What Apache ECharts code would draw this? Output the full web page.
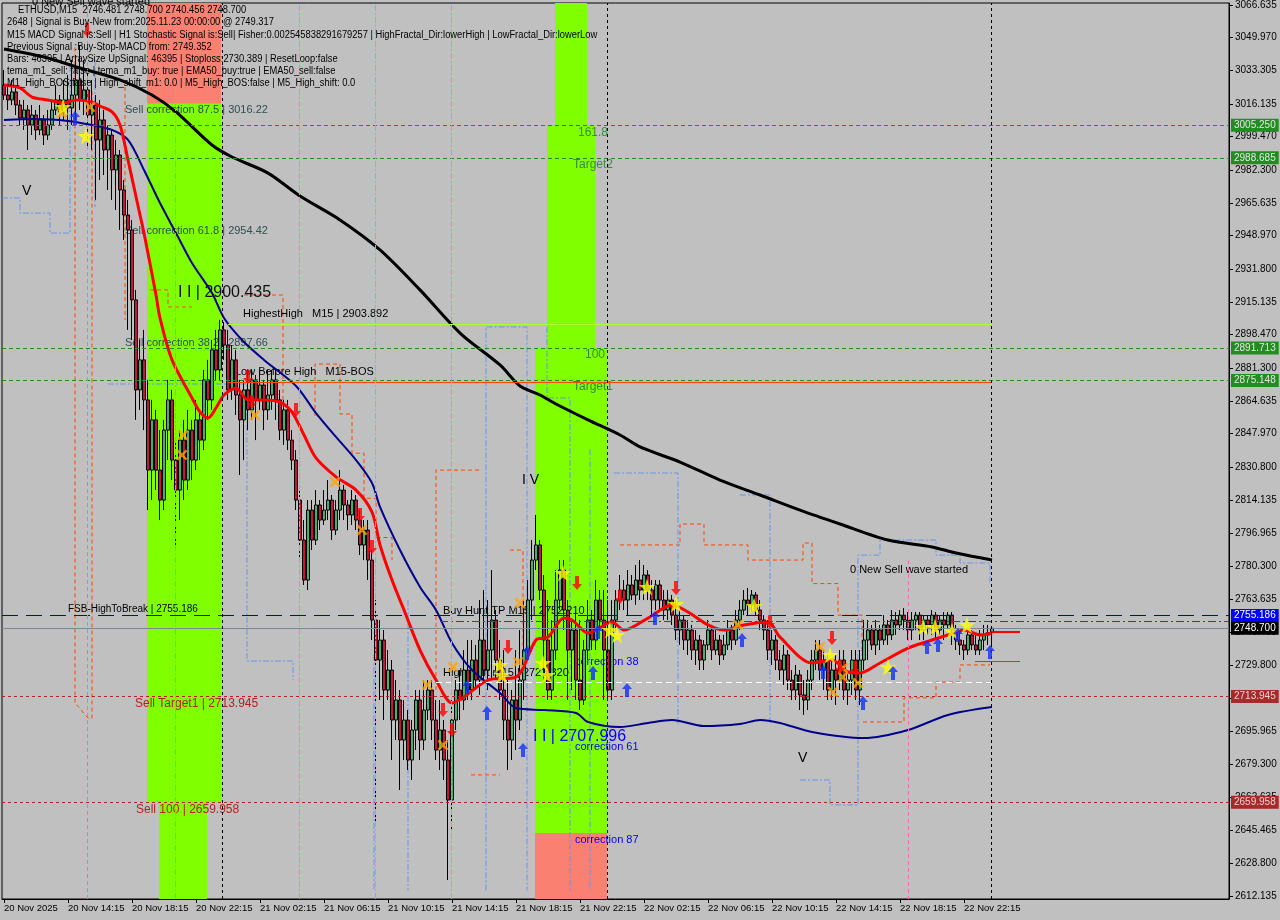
<!DOCTYPE html>
<html><head><meta charset="utf-8">
<script src="https://cdn.jsdelivr.net/npm/echarts@6/dist/echarts.min.js"></script>
<style>html,body{margin:0;padding:0;background:#c0c0c0;}#c{width:1280px;height:920px;}</style>
</head><body><div id="c"></div><script>
// ---------- DATA ----------
const xTickBars = [0,16,32,48,64,80,96,112,128,144,160,176,192,208,224,240];
const xTickLabels = ['20 Nov 2025','20 Nov 14:15','20 Nov 18:15','20 Nov 22:15','21 Nov 02:15','21 Nov 06:15','21 Nov 10:15','21 Nov 14:15','21 Nov 18:15','21 Nov 22:15','22 Nov 02:15','22 Nov 06:15','22 Nov 10:15','22 Nov 14:15','22 Nov 18:15','22 Nov 22:15'];
const yTicks = [3066.635,3049.970,3033.305,3016.135,2999.470,2982.300,2965.635,2948.970,2931.800,2915.135,2898.470,2881.300,2864.635,2847.970,2830.800,2814.135,2796.965,2780.300,2763.635,2746.465,2729.800,2713.135,2695.965,2679.300,2662.635,2645.465,2628.800,2612.135];

// [open, close, low, high] per M15 bar
const candles = [
[3025.8,3020.7,3018.2,3033.5],[3020.7,3018.2,3013.1,3025.8],[3018.2,3022.3,3015.6,3028.4],[3022.3,3015.6,3010.5,3024.3],
[3015.6,3009.0,3005.4,3018.2],[3009.0,3013.1,3002.9,3018.2],[3013.1,3005.4,2992.7,3015.6],[3005.4,3010.5,3000.3,3015.6],
[3010.5,3002.9,2997.8,3013.1],[3002.9,3008.0,3000.3,3015.6],[3008.0,3000.3,2995.2,3010.5],[3000.3,3005.4,2997.8,3013.1],
[3005.4,3013.1,3002.9,3018.2],[3013.1,3018.2,3010.5,3025.8],[3018.2,3012.1,3005.4,3020.7],[3012.1,3018.2,3008.0,3028.4],
[3018.2,3014.1,3002.9,3030.9],[3014.1,3020.7,3005.4,3038.6],[3020.7,3028.4,3008.0,3041.1],[3028.4,3018.2,3013.1,3046.2],
[3018.2,3023.3,3010.5,3038.6],[3023.3,3010.5,2992.7,3033.5],[3010.5,3015.6,2992.7,3028.4],[3015.6,2997.8,2967.2,3020.7],
[2997.8,3008.0,2977.4,3018.2],[3008.0,2992.7,2979.9,3013.1],[2992.7,3000.3,2972.3,3005.4],[3000.3,2982.5,2967.2,3002.9],
[2982.5,2990.1,2962.1,2997.8],[2990.1,2972.3,2951.9,2992.7],[2972.3,2959.5,2946.8,2977.4],[2959.5,2951.9,2900.9,2967.2],
[2951.9,2916.2,2895.8,2957.0],[2916.2,2870.3,2855.0,2921.3],[2870.3,2885.6,2860.1,2895.8],[2885.6,2865.2,2849.8,2900.9],
[2865.2,2829.4,2809.0,2875.4],[2829.4,2855.0,2814.1,2865.2],[2855.0,2829.4,2819.2,2860.1],[2829.4,2814.1,2803.9,2849.8],
[2814.1,2849.8,2809.0,2855.0],[2849.8,2865.2,2834.5,2875.4],[2865.2,2834.5,2824.3,2870.3],[2834.5,2819.2,2791.2,2844.7],
[2819.2,2844.7,2803.9,2849.8],[2844.7,2824.3,2814.1,2855.0],[2824.3,2849.8,2819.2,2860.1],[2849.8,2834.5,2824.3,2855.0],
[2834.5,2855.0,2829.4,2865.2],[2855.0,2844.7,2834.5,2860.1],[2844.7,2875.4,2839.6,2880.5],[2875.4,2865.2,2855.0,2885.6],
[2865.2,2890.7,2860.1,2895.8],[2890.7,2880.5,2875.4,2900.9],[2880.5,2900.9,2875.4,2906.0],[2900.9,2893.2,2885.6,2904.9],
[2893.2,2870.3,2865.2,2900.9],[2870.3,2885.6,2865.2,2893.2],[2885.6,2867.7,2857.5,2890.7],[2867.7,2855.0,2826.9,2875.4],
[2855.0,2870.3,2834.5,2875.4],[2870.3,2860.1,2849.8,2880.5],[2860.1,2875.4,2855.0,2880.5],[2875.4,2865.2,2844.7,2877.9],
[2865.2,2872.8,2860.1,2880.5],[2872.8,2860.1,2849.8,2875.4],[2860.1,2867.7,2855.0,2880.5],[2867.7,2875.4,2860.1,2880.5],
[2875.4,2865.2,2855.0,2880.5],[2865.2,2849.8,2844.7,2870.3],[2849.8,2860.1,2842.2,2865.2],[2860.1,2844.7,2839.6,2865.2],
[2844.7,2834.5,2829.4,2849.8],[2834.5,2814.1,2809.0,2839.6],[2814.1,2793.7,2783.5,2819.2],[2793.7,2773.3,2770.8,2803.9],
[2773.3,2809.0,2768.2,2814.1],[2809.0,2793.7,2788.6,2814.1],[2793.7,2811.6,2791.2,2819.2],[2811.6,2803.9,2798.8,2814.1],
[2803.9,2809.0,2801.4,2819.2],[2809.0,2814.1,2803.9,2824.3],[2814.1,2798.8,2793.7,2816.7],[2798.8,2809.0,2796.3,2814.1],
[2809.0,2819.2,2803.9,2829.4],[2819.2,2811.6,2803.9,2821.8],[2811.6,2806.5,2798.8,2814.1],[2806.5,2814.1,2801.4,2819.2],
[2814.1,2803.9,2798.8,2816.7],[2803.9,2791.2,2786.1,2809.0],[2791.2,2798.8,2783.5,2803.9],[2798.8,2783.5,2773.3,2803.9],
[2783.5,2752.9,2742.7,2788.6],[2752.9,2732.5,2648.4,2763.1],[2732.5,2742.7,2712.1,2752.9],[2742.7,2717.2,2701.9,2747.8],
[2717.2,2727.4,2712.1,2737.6],[2727.4,2701.9,2681.5,2732.5],[2701.9,2712.1,2691.7,2722.3],[2712.1,2691.7,2666.2,2717.2],
[2691.7,2701.9,2681.5,2712.1],[2701.9,2681.5,2676.4,2707.0],[2681.5,2696.8,2671.3,2701.9],[2696.8,2712.1,2686.6,2717.2],
[2712.1,2691.7,2681.5,2717.2],[2691.7,2707.0,2686.6,2722.3],[2707.0,2717.2,2701.9,2722.3],[2717.2,2701.9,2691.7,2722.3],
[2701.9,2686.6,2681.5,2712.1],[2686.6,2696.8,2676.4,2712.1],[2696.8,2681.5,2671.3,2701.9],[2681.5,2661.1,2620.3,2691.7],
[2661.1,2701.9,2645.8,2712.1],[2701.9,2717.2,2696.8,2722.3],[2717.2,2712.1,2701.9,2727.4],[2712.1,2727.4,2707.0,2737.6],
[2727.4,2717.2,2712.1,2742.7],[2717.2,2732.5,2712.1,2742.7],[2732.5,2722.3,2717.2,2740.2],[2722.3,2742.7,2714.7,2763.1],
[2742.7,2727.4,2722.3,2768.2],[2727.4,2737.6,2717.2,2763.1],[2737.6,2752.9,2722.3,2778.4],[2752.9,2732.5,2722.3,2758.0],
[2732.5,2717.2,2712.1,2742.7],[2717.2,2701.9,2691.7,2737.6],[2701.9,2691.7,2676.4,2722.3],[2691.7,2712.1,2681.5,2717.2],
[2712.1,2701.9,2686.6,2737.6],[2701.9,2722.3,2696.8,2747.8],[2722.3,2737.6,2712.1,2763.1],[2737.6,2763.1,2732.5,2773.3],
[2763.1,2783.5,2752.9,2793.7],[2783.5,2791.2,2778.4,2806.5],[2791.2,2768.2,2763.1,2793.7],[2768.2,2742.7,2722.3,2775.9],
[2742.7,2717.2,2712.1,2763.1],[2717.2,2737.6,2712.1,2752.9],[2737.6,2763.1,2732.5,2778.4],[2763.1,2778.4,2758.0,2783.5],
[2778.4,2758.0,2747.8,2783.5],[2758.0,2737.6,2712.1,2763.1],[2737.6,2747.8,2717.2,2752.9],[2747.8,2722.3,2712.1,2758.0],
[2722.3,2712.1,2707.0,2752.9],[2712.1,2737.6,2709.6,2742.7],[2737.6,2752.9,2732.5,2763.1],[2752.9,2742.7,2737.6,2758.0],
[2742.7,2763.1,2737.6,2773.3],[2763.1,2752.9,2747.8,2768.2],[2752.9,2737.6,2712.1,2768.2],[2737.6,2717.2,2712.1,2763.1],
[2717.2,2752.9,2712.1,2763.1],[2752.9,2763.1,2747.8,2768.2],[2763.1,2768.2,2758.0,2775.9],[2768.2,2763.1,2758.0,2773.3],
[2763.1,2770.8,2755.4,2778.4],[2770.8,2765.7,2763.1,2775.9],[2765.7,2773.3,2760.6,2781.0],[2773.3,2768.2,2763.1,2783.5],
[2768.2,2775.9,2763.1,2781.0],[2775.9,2768.2,2763.1,2778.4],[2768.2,2763.1,2755.4,2773.3],[2763.1,2770.8,2758.0,2773.3],
[2770.8,2763.1,2758.0,2773.3],[2763.1,2758.0,2752.9,2768.2],[2758.0,2763.1,2752.9,2768.2],[2763.1,2755.4,2750.4,2765.7],
[2755.4,2747.8,2742.7,2763.1],[2747.8,2752.9,2740.2,2758.0],[2752.9,2742.7,2737.6,2755.4],[2742.7,2747.8,2735.1,2752.9],
[2747.8,2737.6,2732.5,2750.4],[2737.6,2742.7,2730.0,2747.8],[2742.7,2732.5,2727.4,2745.3],[2732.5,2740.2,2727.4,2742.7],
[2740.2,2747.8,2737.6,2752.9],[2747.8,2737.6,2732.5,2750.4],[2737.6,2742.7,2735.1,2747.8],[2742.7,2735.1,2730.0,2745.3],
[2735.1,2740.2,2732.5,2745.3],[2740.2,2747.8,2737.6,2752.9],[2747.8,2742.7,2737.6,2750.4],[2742.7,2752.9,2740.2,2758.0],
[2752.9,2758.0,2747.8,2763.1],[2758.0,2763.1,2755.4,2768.2],[2763.1,2760.6,2755.4,2769.3],[2760.6,2765.7,2757.0,2768.2],
[2765.7,2758.0,2755.4,2767.2],[2758.0,2752.9,2747.8,2763.1],[2752.9,2747.8,2742.7,2755.4],[2747.8,2737.6,2732.5,2752.9],
[2737.6,2742.7,2730.0,2747.8],[2742.7,2732.5,2727.4,2745.3],[2732.5,2727.4,2722.3,2737.6],[2727.4,2735.1,2719.8,2740.2],
[2735.1,2722.3,2717.2,2737.6],[2722.3,2717.2,2712.1,2727.4],[2717.2,2724.9,2712.1,2730.0],[2724.9,2714.7,2707.0,2727.4],
[2714.7,2712.1,2704.5,2722.3],[2712.1,2722.3,2707.0,2727.4],[2722.3,2732.5,2717.2,2737.6],[2732.5,2737.6,2727.4,2742.7],
[2737.6,2727.4,2722.3,2742.7],[2727.4,2732.5,2717.2,2737.6],[2732.5,2717.2,2712.1,2735.1],[2717.2,2727.4,2712.1,2732.5],
[2727.4,2722.3,2709.6,2735.1],[2722.3,2732.5,2717.2,2737.6],[2732.5,2717.2,2712.1,2737.6],[2717.2,2722.3,2709.6,2727.4],
[2722.3,2732.5,2714.7,2737.6],[2732.5,2717.2,2712.1,2737.6],[2717.2,2732.5,2709.6,2737.6],[2732.5,2742.7,2727.4,2752.9],
[2742.7,2747.8,2732.5,2752.9],[2747.8,2740.2,2737.6,2750.4],[2740.2,2747.8,2735.1,2752.9],[2747.8,2742.7,2737.6,2750.4],
[2742.7,2750.4,2740.2,2755.4],[2750.4,2745.3,2740.2,2752.9],[2745.3,2752.9,2742.7,2758.0],[2752.9,2750.4,2745.3,2757.0],
[2750.4,2755.4,2747.8,2758.0],[2755.4,2752.9,2747.8,2759.0],[2752.9,2747.8,2742.7,2757.0],[2747.8,2752.9,2742.7,2757.0],
[2752.9,2755.4,2747.8,2757.0],[2755.4,2747.8,2742.7,2757.0],[2747.8,2752.9,2742.7,2755.4],[2752.9,2750.4,2745.3,2755.4],
[2750.4,2755.4,2745.3,2758.0],[2755.4,2747.8,2742.7,2757.0],[2747.8,2752.9,2745.3,2755.4],[2752.9,2750.4,2742.7,2757.0],
[2750.4,2755.4,2747.8,2757.0],[2755.4,2747.8,2740.2,2757.0],[2747.8,2742.7,2737.6,2750.4],[2742.7,2740.2,2735.1,2747.8],
[2740.2,2737.6,2732.5,2742.7],[2737.6,2745.3,2735.1,2747.8],[2745.3,2740.2,2737.6,2747.8],[2740.2,2737.6,2735.1,2745.3],
[2737.6,2742.7,2735.1,2747.8],[2742.7,2745.3,2737.6,2750.4],[2745.3,2746.5,2740.2,2750.4],[2746.5,2748.7,2740.5,2748.7]
];

// moving averages: [bar, price]
const maFast = [[0,3025.8],[4,3024.3],[7,3019.7],[11,3018.2],[15,3016.7],[18,3018.2],[22,3017.2],[24,3015.1],[27,3012.1],[29,3005.4],[31,2987.6],[34,2959.5],[35,2950.3],[38,2918.7],[39,2907.0],[42,2885.6],[47,2866.2],[49,2859.0],[51,2856.0],[53,2861.1],[55,2867.7],[58,2871.3],[61,2865.2],[65,2865.2],[69,2864.1],[72,2859.0],[75,2847.3],[78,2835.6],[83,2825.9],[88,2819.2],[92,2808.0],[94,2791.2],[97,2773.3],[100,2758.0],[104,2737.6],[108,2722.3],[112,2710.6],[115,2713.7],[121,2722.3],[128,2723.8],[133,2742.7],[136,2744.2],[140,2753.9],[142,2752.9],[146,2746.3],[148,2747.8],[152,2751.9],[155,2747.8],[161,2753.9],[167,2760.6],[171,2757.0],[176,2750.4],[180,2747.8],[185,2750.4],[191,2751.9],[194,2744.2],[202,2731.0],[207,2732.5],[211,2726.4],[214,2725.9],[219,2731.0],[226,2738.6],[232,2742.7],[236,2745.3],[240,2747.8],[244,2745.3],[247,2746.3]];
const maMid = [[0,3008.0],[8,3008.5],[16,3007.5],[22,3005.4],[27,3002.9],[31,2997.8],[35,2982.5],[39,2965.6],[43,2950.3],[47,2935.0],[52,2919.7],[55,2907.0],[60,2894.7],[65,2885.6],[73,2872.3],[78,2858.5],[83,2846.3],[88,2834.5],[92,2822.8],[94,2810.6],[99,2788.6],[104,2769.8],[108,2758.0],[112,2741.2],[117,2727.4],[124,2715.7],[128,2708.0],[135,2707.0],[143,2705.5],[146,2700.9],[154,2698.3],[161,2700.4],[167,2701.9],[175,2698.8],[184,2699.9],[189,2701.9],[194,2700.4],[202,2695.8],[215,2692.7],[226,2696.8],[236,2704.5],[247,2708.5]];
const maSlow = [[0,3044.2],[10,3040.1],[19,3034.5],[29,3028.4],[37,3020.7],[43,3012.1],[52,2995.2],[57,2989.1],[66,2980.9],[74,2969.2],[84,2957.0],[94,2941.7],[104,2921.3],[114,2899.3],[124,2883.0],[129,2872.3],[134,2867.7],[138,2863.1],[146,2855.0],[154,2847.3],[159,2841.2],[169,2833.5],[179,2824.3],[189,2816.7],[199,2809.0],[209,2801.9],[221,2793.7],[232,2790.2],[238,2787.1],[247,2783.5]];

// levels
const greenLevels = [3005.250, 2988.685, 2891.713, 2875.148];
const sellLevels = [2713.945, 2659.958];
const fsbHighToBreak = 2755.186;
const buyHuntTP = 2752.210;
const bidPrice = 2748.700;
const highShift = 2721.320;
const highestHigh = 2903.892;
const lowBeforeHigh = 2874.4;
const sellFib875 = 3016.22;
const targetLevel87 = 2644.3;

// markers [bar, price]
const stars = [[14.75,3014.6],[20.5,2999.8],[139.75,2776.9],[124,2730.0],[124.5,2724.9],[134.75,2731.0],[135.75,2724.9],[151.5,2747.8],[153.25,2745.3],[160.75,2769.8],[168,2761.1],[187.5,2760.1],[206.5,2735.1],[221,2728.9],[229.75,2749.4],[232.75,2749.4],[237,2747.3],[240.75,2750.4]];
const crosses = [[14.5,3011.5],[21.5,3014.6],[44.75,2847.3],[44.5,2837.1],[62.75,2857.5],[82.75,2823.3],[89.5,2798.8],[129,2761.6],[105.75,2719.8],[109.75,2689.1],[112.25,2728.9],[128.5,2731.5],[204,2739.2],[209.75,2728.4],[209.75,2723.8],[207.25,2716.2],[213.5,2720.8],[183.5,2750.4]];
const downArrows = [[20.75,3053.9],[61,2876.9],[62,2864.1],[73,2860.0],[89,2806.5],[92,2790.2],[126,2739.2],[109.75,2707.0],[112,2696.8],[143.25,2771.8],[154,2764.7],[168,2769.3],[191.5,2751.9],[207,2743.7],[209,2728.9],[212.75,2728.4]];
const upArrows = [[17.75,3009.0],[115.75,2718.7],[120.75,2705.5],[130.75,2736.1],[129.75,2686.6],[147.25,2725.9],[148.5,2746.8],[155.75,2717.2],[162.75,2753.9],[184.5,2742.7],[204.75,2726.4],[214.75,2710.6],[222.25,2725.9],[230.75,2739.2],[233.5,2740.2],[238.5,2745.3],[246.5,2736.6]];

// stepped channel lines [bar, price]
const orangeSteps = [
 [[17.75,3045.0],[17.75,2710.6],[21,2702.9],[22,2702.9],[22,3023.3]],
 [[30.25,3024.8],[30.25,2906.0]],
 [[36.5,2921.3],[41,2921.3],[41,2912.6],[47,2912.6]],
 [[60,2918.7],[69.75,2918.7],[69.75,2860.1]],
 [[77.75,2857.0],[77.75,2883.5],[84,2883.5],[84,2858.0],[87,2858.0],[87,2838.0],[90,2838.0],[90,2815.0],[93,2815.0],[93,2795.0],[97,2795.0],[97,2783.5]],
 [[108,2717.2],[108,2829.4],[119,2829.4]],
 [[116.75,2673.9],[124,2673.9]],
 [[126.5,2788.6],[129.75,2788.6],[129.75,2722.3]],
 [[154,2791.2],[169,2791.2],[169,2801.9],[175,2801.9],[175,2791.2],[186,2791.2],[186,2783.5],[199.75,2783.5],[199.75,2792.2],[202,2792.2],[202,2771.5],[208.5,2771.5],[208.5,2755.4],[214.5,2755.4],[214.5,2735.0]],
 [[214.75,2700.9],[225,2700.9],[225,2713.2],[233,2713.2],[233,2721.3],[239,2721.3],[239,2730.0],[246.5,2730.0]]
];
const blueSteps = [
 [[-0.5,2968.2],[4,2968.2],[4,2960.5],[11.5,2960.5],[11.5,2950.3],[16.5,2950.3],[16.5,3040.0]],
 [[22.75,3038.6],[22.75,2963.6]],
 [[26,2873.3],[60.75,2873.3],[60.75,2732.0],[72.25,2732.0],[72.25,2722.3]],
 [[92.5,2735.0],[92.5,2615.0]],
 [[101,2763.1],[101,2615.0]],
 [[120.5,2615.0],[120.5,2902.4],[130.75,2902.4],[130.75,2615.0]],
 [[135.75,2902.4],[135.75,2866.2],[141.5,2866.2],[141.5,2615.0]],
 [[146.5,2840.0],[146.5,2615.0]],
 [[152.5,2827.9],[168.5,2827.9],[168.5,2700.0]],
 [[184,2816.7],[191.5,2816.7],[191.5,2700.0]],
 [[199,2671.3],[206.5,2671.3],[206.5,2658.6],[213.5,2658.6],[213.5,2786.0],[219,2786.0],[219,2793.7],[233,2793.7],[233,2786.0],[239,2786.0],[239,2782.0],[246.5,2782.0],[246.5,2772.0]]
];

// chart annotations [bar, price, text]
const annotations = [
 [30.25,3013.1,'Sell correction 87.5 | 3016.22'],
 [30.25,2951.4,'Sell correction 61.8 | 2954.42'],
 [30.25,2894.2,'Sell correction 38.2 | 2897.66'],
 [43.5,2919.7,'I I | 2900.435'],
 [59.75,2909.0,'HighestHigh   M15 | 2903.892'],
 [57.75,2879.4,'Low Before High   M15-BOS'],
 [143.5,3001.4,'161.8'],
 [142.25,2985.0,'Target2'],
 [145.25,2888.1,'100'],
 [142.25,2871.8,'Target1'],
 [4.5,2971.8,'V'],
 [129.5,2824.3,'I V'],
 [198.5,2682.5,'V'],
 [211.5,2778.4,'0 New Sell wave started'],
 [7,3068.4,'0 New Sell wave started'],
 [16,2758.5,'FSB-HighToBreak | 2755.186'],
 [109.75,2757.5,'Buy Hunt TP M15 | 2752.210'],
 [109.75,2725.9,'High-shift m15 | 2721.320'],
 [32.75,2710.1,'Sell Target1 | 2713.945'],
 [33,2656.0,'Sell 100 | 2659.958'],
 [142.75,2731.5,'correction 38'],
 [142.75,2688.1,'correction 61'],
 [142.75,2640.7,'correction 87'],
 [132.25,2693.2,'I I | 2707.996']
];
const annotationKinds = ['fib','fib','fib','bigDark','black','black','tgt','tgt','tgt','tgt','vmark','vmark','vmark','black','black','small','black','black','sell','sell','corr','corr','corr','bigBlue'];

const infoLines = [
 'ETHUSD,M15  2746.481 2748.700 2740.456 2748.700',
 '2648 | Signal is Buy-New from:2025.11.23 00:00:00 @ 2749.317',
 'M15 MACD Signal is:Sell | H1 Stochastic Signal is:Sell| Fisher:0.002545838291679257 | HighFractal_Dir:lowerHigh | LowFractal_Dir:lowerLow',
 'Previous Signal :Buy-Stop-MACD from: 2749.352',
 'Bars: 46395 | ArraySize UpSignal: 46395 | Stoploss:2730.389 | ResetLoop:false',
 'tema_m1_sell: false | tema_m1_buy: true | EMA50_buy:true | EMA50_sell:false',
 'M1_High_BOS:false | High_shift_m1: 0.0 | M5_High_BOS:false | M5_High_shift: 0.0'
];

// ---------- STYLE / LAYOUT ----------
const FONT = '"Liberation Sans", Arial, sans-serif';
const Y_MAX = 3067.655, Y_MIN = 2610.605, X_MIN = -0.5, X_MAX = 306.25;
const kindStyle = {
 fib:{font:'11px '+FONT, fill:'#2F4F4F'},
 bigDark:{font:'16px '+FONT, fill:'#111'},
 black:{font:'11px '+FONT, fill:'#000'},
 small:{font:'10px '+FONT, fill:'#000'},
 tgt:{font:'12px '+FONT, fill:'#3A8A3A'},
 vmark:{font:'14px '+FONT, fill:'#000'},
 sell:{font:'12px '+FONT, fill:'#B22222'},
 corr:{font:'11px '+FONT, fill:'#0000FF'},
 bigBlue:{font:'16px '+FONT, fill:'#0000FF'}
};
const STAR = 'path://M50,0 L61,35 L98,35 L68,57 L79,91 L50,70 L21,91 L32,57 L2,35 L39,35 Z';
const CROSS = 'path://M0,2 L2,0 L6,4 L10,0 L12,2 L8,6 L12,10 L10,12 L6,8 L2,12 L0,10 L4,6 Z';
const DOWN = 'path://M3,0 L7,0 L7,8 L10,8 L5,14 L0,8 L3,8 Z';
const UP = 'path://M5,0 L10,6 L7,6 L7,14 L3,14 L3,6 L0,6 Z';

function tag(v, bg, fg){
 return {show:true, position:'end', distance:2, formatter:()=>v.toFixed(3), backgroundColor:bg, color:fg,
   padding:[2,3,1,3], fontSize:10, fontFamily:FONT};
}
const markLines = [];
greenLevels.forEach(v=>markLines.push({yAxis:v, lineStyle:{color:'#228B22', type:[4,3], width:1}, label:tag(v,'#228B22','#E6E6E6')}));
sellLevels.forEach(v=>markLines.push({yAxis:v, lineStyle:{color:'#B22222', type:[3,3], width:1}, label:tag(v,'#A52A2A','#F0D0D0')}));
markLines.push({yAxis:fsbHighToBreak, lineStyle:{color:'#0000CD', type:[16,8], width:1}, label:tag(fsbHighToBreak,'#0000FF','#FFFFFF')});
markLines.push({yAxis:bidPrice, lineStyle:{color:'#778899', type:'solid', width:1}, label:tag(bidPrice,'#000000','#FFFFFF')});
markLines.push([{coord:[109,buyHuntTP], lineStyle:{color:'#E00000', type:[8,3,2,3], width:1}},{coord:[X_MAX,buyHuntTP]}]);
markLines.push([{coord:[108,highShift], lineStyle:{color:'#FFFFFF', type:[6,4], width:1}},{coord:[247,highShift]}]);
markLines.push([{coord:[56,highestHigh], lineStyle:{color:'#ADFF2F', type:'solid', width:1}},{coord:[247,highestHigh]}]);
markLines.push([{coord:[56,lowBeforeHigh], lineStyle:{color:'#FF4500', type:'solid', width:1}},{coord:[247,lowBeforeHigh]}]);
markLines.push([{coord:[246.75,2746.8], lineStyle:{color:'#FF0000', type:'solid', width:2}},{coord:[254,2746.8]}]);
markLines.push([{coord:[242.75,2732.0], lineStyle:{color:'#9932CC', type:'solid', width:1}},{coord:[254,2732.0]}]);
// verticals
[54.5,150.75,246.75].forEach(b=>markLines.push({xAxis:b, lineStyle:{color:'#000', type:[3,3], width:1}}));
[42.75,73.75,92.75,111.75].forEach(b=>markLines.push({xAxis:b, lineStyle:{color:'#20E0EE', type:[6,2,2,2], width:1}}));
markLines.push({xAxis:20.75, lineStyle:{color:'#FF69B4', type:[4,3], width:1}});
markLines.push([{coord:[226,2783.5], lineStyle:{color:'#FF69B4', type:[4,3], width:1}},{coord:[226,Y_MIN]}]);

const zones = [
 [{xAxis:35.75, yAxis:Y_MAX, itemStyle:{color:'#FA8072'}},{xAxis:54.25, yAxis:sellFib875}],
 [{xAxis:35.75, yAxis:sellFib875, itemStyle:{color:'#7FFF00'}},{xAxis:54.25, yAxis:sellLevels[1]}],
 [{xAxis:38.75, yAxis:sellLevels[1], itemStyle:{color:'#7FFF00'}},{xAxis:50.75, yAxis:Y_MIN}],
 [{xAxis:137.75, yAxis:Y_MAX, itemStyle:{color:'#7FFF00'}},{xAxis:145.75, yAxis:greenLevels[0]}],
 [{xAxis:135.75, yAxis:greenLevels[0], itemStyle:{color:'#7FFF00'}},{xAxis:147.75, yAxis:greenLevels[2]}],
 [{xAxis:132.75, yAxis:greenLevels[2], itemStyle:{color:'#7FFF00'}},{xAxis:150.75, yAxis:targetLevel87}],
 [{xAxis:132.75, yAxis:targetLevel87, itemStyle:{color:'#FA8072'}},{xAxis:150.75, yAxis:Y_MIN}]
];

function stepSeries(segs, color, dash){
 return {type:'custom', z:2, silent:true, data:segs.map((s,i)=>[s[0][0], s[0][1], i]),
  renderItem:(params, api)=>{
   const seg = segs[api.value(2)];
   return {type:'polyline', shape:{points:seg.map(p=>api.coord(p))}, style:{stroke:color, lineWidth:1, lineDash:dash, fill:null}};
  }};
}

const chart = echarts.init(document.getElementById('c'), null, {renderer:'canvas'});
chart.setOption({
 animation:false,
 backgroundColor:'#C0C0C0',
 grid:{left:2, top:3, right:51, bottom:21, show:true, borderColor:'#000', borderWidth:1, backgroundColor:'#C0C0C0', containLabel:false, outerBoundsMode:'none'},
 xAxis:{type:'value', min:X_MIN, max:X_MAX, splitLine:{show:false},
  axisLine:{show:true, onZero:false, lineStyle:{color:'#000'}},
  axisTick:{show:true, customValues:xTickBars, length:4, lineStyle:{color:'#000'}},
  axisLabel:{customValues:xTickBars, formatter:v=>xTickLabels[xTickBars.indexOf(v)], align:'left', margin:4, color:'#000', fontSize:9.5, fontFamily:FONT}},
 yAxis:{type:'value', position:'right', min:Y_MIN, max:Y_MAX, splitLine:{show:false},
  axisLine:{show:true, onZero:false, lineStyle:{color:'#000'}},
  axisTick:{show:true, customValues:yTicks, length:4, lineStyle:{color:'#000'}},
  axisLabel:{customValues:yTicks, formatter:v=>v.toFixed(3), margin:6, color:'#000', fontSize:10, fontFamily:FONT}},
 graphic: infoLines.map((t,i)=>({type:'text', z:100, x: i===0?18:7, y:[10,22,35,47,59,71,83][i], scaleX:0.935,
   style:{text:t, font:'10px '+FONT, fill:'#000', verticalAlign:'middle'}})),
 series:[
  {type:'line', z:1, silent:true, data:[[X_MIN,Y_MIN]], symbol:'none', lineStyle:{opacity:0},
   markArea:{silent:true, data:zones}},
  {type:'line', z:2, silent:true, data:[[X_MIN,Y_MIN]], symbol:'none', lineStyle:{opacity:0},
   markLine:{silent:true, precision:3, symbol:['none','none'], label:{show:false}, data:markLines}},
  stepSeries(orangeSteps, '#FF4500', [4,3]),
  stepSeries(blueSteps, '#6495ED', [6,2,2,2]),
  {type:'custom', z:2, silent:true, data:annotations.map((a,i)=>[a[0],a[1],i]),
   renderItem:(params, api)=>{
    const i = api.value(2); const pt = api.coord([api.value(0), api.value(1)]);
    const st = kindStyle[annotationKinds[i]];
    return {type:'text', x:pt[0], y:pt[1], style:{text:annotations[i][2], font:st.font, fill:st.fill, verticalAlign:'middle', align:'left'}};
   }},
  {type:'candlestick', z:3, silent:true, barWidth:3,
   data:candles.map((c,i)=>[i,c[0],c[1],c[2],c[3]]), encode:{x:0, y:[1,2,3,4]},
   itemStyle:{color:'#3CB371', color0:'#C8143C', borderColor:'#000', borderColor0:'#000', borderWidth:1}},
  {type:'line', z:4, silent:true, data:maMid, smooth:0.3, symbol:'none', lineStyle:{color:'#00008B', width:2}},
  {type:'line', z:4, silent:true, data:maSlow, smooth:0.3, symbol:'none', lineStyle:{color:'#000', width:3}},
  {type:'line', z:4, silent:true, data:maFast, smooth:0.3, symbol:'none', lineStyle:{color:'#FF0000', width:3}},
  {type:'scatter', z:5, silent:true, data:crosses, symbol:CROSS, symbolSize:11, itemStyle:{color:'#FFA500'}},
  {type:'scatter', z:5, silent:true, data:stars, symbol:STAR, symbolSize:17, itemStyle:{color:'#FFFF00'}},
  {type:'scatter', z:5, silent:true, data:downArrows, symbol:DOWN, symbolSize:[10,14], itemStyle:{color:'#FF0000'}},
  {type:'scatter', z:5, silent:true, data:upArrows, symbol:UP, symbolSize:[10,14], itemStyle:{color:'#1030FF'}}
 ]
});
</script></body></html>
